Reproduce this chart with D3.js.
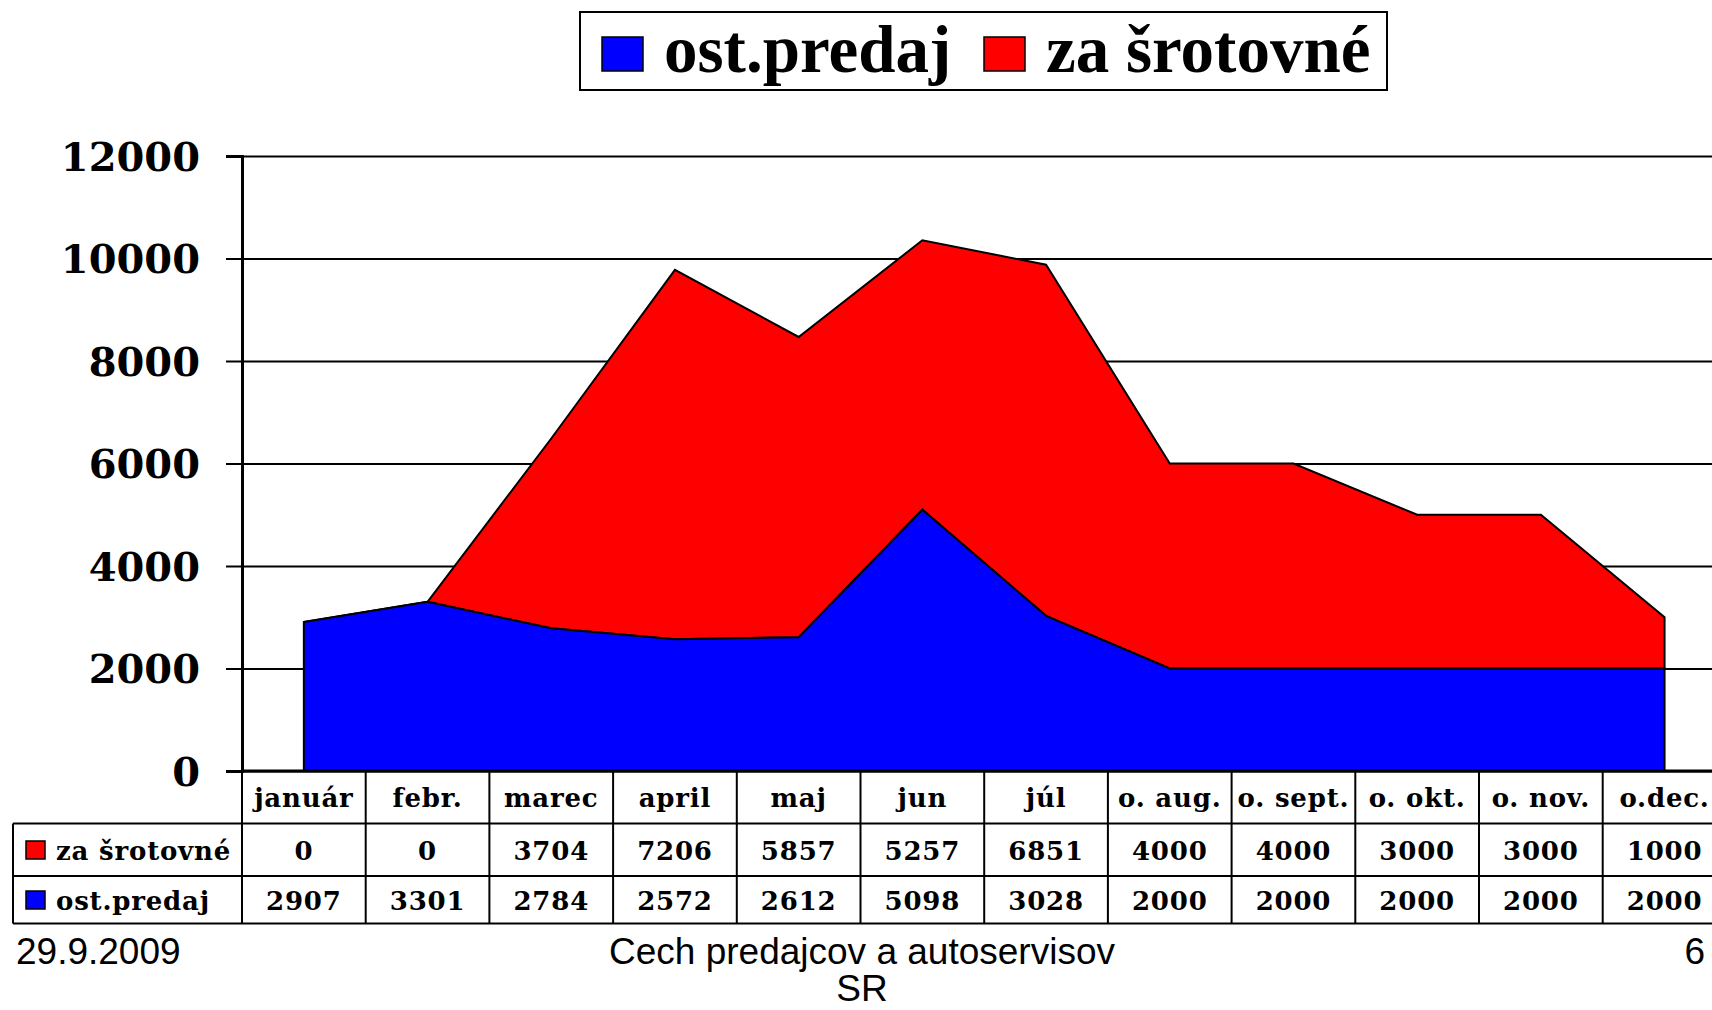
<!DOCTYPE html>
<html><head><meta charset="utf-8">
<script src="https://cdn.jsdelivr.net/npm/d3@7"></script>
<style>html,body{margin:0;padding:0;background:#fff;overflow:hidden}</style>
</head><body>
<svg id="chart" width="1712" height="1010"></svg>
<script>
const months = ["január","febr.","marec","april","maj","jun","júl","o. aug.","o. sept.","o. okt.","o. nov.","o.dec."];
const srotovne = [0,0,3704,7206,5857,5257,6851,4000,4000,3000,3000,1000];
const ostPredaj = [2907,3301,2784,2572,2612,5098,3028,2000,2000,2000,2000,2000];
const yTicks = [0,2000,4000,6000,8000,10000,12000];
const seriesNames = ["ost.predaj","za šrotovné"];
const seriesColors = ["#0000ff","#ff0000"];

(function(){
const svg = d3.select("#chart");
const plotLeft = 242, colW = 123.7, plotTop = 156, plotBottom = 771;
const x = d3.scaleBand().domain(months).range([plotLeft, plotLeft + colW*12]).padding(0);
const y = d3.scaleLinear().domain([0,12000]).range([plotBottom, plotTop]);
const cx = m => x(m) + x.bandwidth()/2;

// gridlines
const grid = svg.append("g").attr("transform",`translate(${plotLeft},0)`)
  .call(d3.axisLeft(y).tickValues(yTicks).tickSize(-(1712-plotLeft)).tickFormat(""));
grid.select(".domain").remove();
grid.selectAll("line").attr("stroke","#000").attr("stroke-width",2);

// stacked areas
const rows = months.map((m,i)=>({m, "ost.predaj":ostPredaj[i], "za šrotovné":srotovne[i]}));
const stack = d3.stack().keys(seriesNames)(rows);
const area = d3.area().x(d=>cx(d.data.m)).y0(d=>y(d[0])).y1(d=>y(d[1]));
svg.append("g").selectAll("path").data(stack.slice().reverse()).join("path")
  .attr("d",area)
  .attr("fill",(d)=>seriesColors[seriesNames.indexOf(d.key)])
  .attr("stroke","#000").attr("stroke-width",2).attr("stroke-linejoin","miter");

// y axis
const yAx = svg.append("g").attr("transform",`translate(${plotLeft},0)`)
  .call(d3.axisLeft(y).tickValues(yTicks).tickSize(16).tickPadding(26).tickFormat(d3.format("d")));
yAx.select(".domain").attr("stroke","#000").attr("stroke-width",3);
yAx.selectAll("line").attr("stroke","#000").attr("stroke-width",2);
yAx.selectAll("text").attr("font-family","DejaVu Serif").attr("font-weight","bold")
  .attr("font-size",40).attr("fill","#000").attr("dy","0.36em");

// x axis line
svg.append("line").attr("x1",plotLeft).attr("x2",1712).attr("y1",y(0)).attr("y2",y(0))
  .attr("stroke","#000").attr("stroke-width",3);

// data table
const tbl = svg.append("g");
const r0 = 771, r1 = 823.5, r2 = 876, r3 = 923.5, tblLeft = 13;
const tf = sel => sel.attr("font-family","DejaVu Serif").attr("font-weight","bold").attr("font-size",26)
  .attr("letter-spacing","0.8px").attr("fill","#000");
[[plotLeft,r0],[tblLeft,r1],[tblLeft,r2],[tblLeft,r3]].forEach(([x1,yy])=>{
  tbl.append("line").attr("x1",x1).attr("x2",1712).attr("y1",yy).attr("y2",yy).attr("stroke","#000").attr("stroke-width",2);
});
tbl.append("line").attr("x1",tblLeft).attr("x2",tblLeft).attr("y1",r1).attr("y2",r3).attr("stroke","#000").attr("stroke-width",2);
tbl.selectAll("line.v").data(months).join("line").attr("class","v")
  .attr("x1",d=>x(d)).attr("x2",d=>x(d)).attr("y1",r0).attr("y2",r3)
  .attr("stroke","#000").attr("stroke-width",2);
tbl.selectAll("text.h").data(months).join("text").attr("class","h")
  .attr("x",cx).attr("y",807).attr("text-anchor","middle").text(d=>d).call(tf);
tbl.selectAll("text.r1").data(srotovne).join("text").attr("class","r1")
  .attr("x",(d,i)=>cx(months[i])).attr("y",860).attr("text-anchor","middle").text(d=>d).call(tf);
tbl.selectAll("text.r2").data(ostPredaj).join("text").attr("class","r2")
  .attr("x",(d,i)=>cx(months[i])).attr("y",910).attr("text-anchor","middle").text(d=>d).call(tf);
[["za šrotovné",seriesColors[1],841,860],["ost.predaj",seriesColors[0],891,910]].forEach(([t,c,sy,by])=>{
  tbl.append("rect").attr("x",26).attr("y",sy).attr("width",19).attr("height",18).attr("fill",c).attr("stroke","#000").attr("stroke-width",1.5);
  tbl.append("text").attr("x",56).attr("y",by).text(t).call(tf);
});

// legend
const lg = svg.append("g");
lg.append("rect").attr("x",580).attr("y",12).attr("width",807).attr("height",78)
  .attr("fill","#fff").attr("stroke","#000").attr("stroke-width",2);
const legItems = [{n:seriesNames[0],c:seriesColors[0],sx:602,tx:664},{n:seriesNames[1],c:seriesColors[1],sx:984,tx:1046}];
legItems.forEach(it=>{
  lg.append("rect").attr("x",it.sx).attr("y",37).attr("width",41).attr("height",34)
    .attr("fill",it.c).attr("stroke","#000").attr("stroke-width",1.5);
  lg.append("text").attr("x",it.tx).attr("y",72).text(it.n)
    .attr("font-family","Liberation Serif").attr("font-weight","bold").attr("font-size",67).attr("fill","#000");
});

// footer
const ft = sel => sel.attr("font-family","Liberation Sans").attr("font-size",37).attr("fill","#000");
svg.append("text").attr("x",16).attr("y",964).text("29.9.2009").call(ft);
svg.append("text").attr("x",862).attr("y",964).attr("text-anchor","middle").text("Cech predajcov a autoservisov").call(ft);
svg.append("text").attr("x",862).attr("y",1001).attr("text-anchor","middle").text("SR").call(ft);
svg.append("text").attr("x",1705).attr("y",964).attr("text-anchor","end").text("6").call(ft);
})();
</script>
</body></html>
